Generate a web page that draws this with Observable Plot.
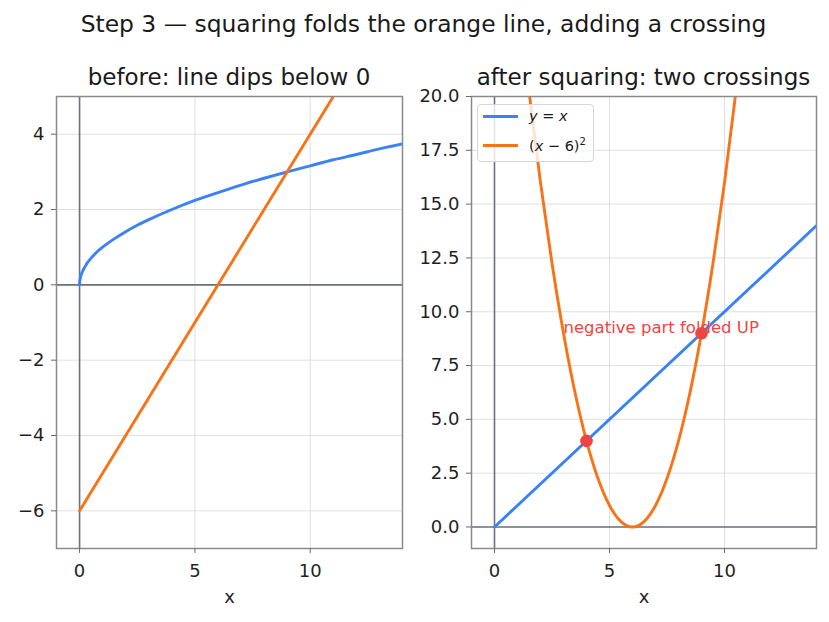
<!DOCTYPE html>
<html>
<head>
<meta charset="utf-8">
<script src="https://cdn.jsdelivr.net/npm/d3@7"></script>
<script src="https://cdn.jsdelivr.net/npm/@observablehq/plot@0.6"></script>
<style>
  html, body { margin: 0; padding: 0; background: #fff; }
  #fig { position: relative; width: 829px; height: 622px; font-family: "DejaVu Sans", sans-serif; color: #1a1a1a; overflow: hidden; }
  .title { position: absolute; left: 9px; width: 829px; text-align: center; font-size: 23.4px; top: 10px; white-space: nowrap; }
  .sub { position: absolute; font-size: 23px; text-align: center; white-space: nowrap; top: 64px; }
  .panel { position: absolute; top: 0; }
  .legend { position: absolute; left: 477px; top: 104px; width: 117px; height: 58px; border: 1px solid #d6d6d6; border-radius: 4px; background: rgba(255,255,255,0.8); font-size: 14.5px; box-sizing: border-box; }
  .legend .row { position: absolute; left: 5px; height: 16px; display: flex; align-items: center; white-space: nowrap; }
  .legend .sw { width: 35px; height: 3px; margin-right: 11px; }
  .legend i { font-style: italic; }
</style>
</head>
<body>
<div id="fig">
  <div class="title">Step 3 — squaring folds the orange line, adding a crossing</div>
  <div class="sub" style="left:56px;width:346px;">before: line dips below 0</div>
  <div class="sub" style="left:471px;width:345px;">after squaring: two crossings</div>
</div>
<script>
// Left panel: y = √x against the straight line y = x − 6
const sqrtX = [0, 0.005, 0.02, 0.045, 0.08, 0.125, 0.18, 0.245, 0.32, 0.405, 0.5, 0.75, 1, 1.5, 2, 2.5, 3, 4, 5, 6, 7, 8, 9, 10, 11, 12, 13, 14];
const sqrtY = [0, 0.07, 0.14, 0.21, 0.28, 0.35, 0.42, 0.49, 0.57, 0.64, 0.71, 0.87, 1, 1.22, 1.41, 1.58, 1.73, 2, 2.24, 2.45, 2.65, 2.83, 3, 3.16, 3.32, 3.46, 3.61, 3.74];
const lineX = [0, 14];
const lineY = [-6, 8];

// Right panel: y = x against the folded curve y = (x − 6)²
const diagX = [0, 14];
const diagY = [0, 14];
const parabX = [1, 1.5, 2, 2.5, 3, 3.5, 4, 4.5, 5, 5.5, 6, 6.5, 7, 7.5, 8, 8.5, 9, 9.5, 10, 10.5, 11];
const parabY = [25, 20.25, 16, 12.25, 9, 6.25, 4, 2.25, 1, 0.25, 0, 0.25, 1, 2.25, 4, 6.25, 9, 12.25, 16, 20.25, 25];
const crossX = [4, 9];
const crossY = [4, 9];
const note = { x: 3, y: 9, text: "negative part folded UP" };

const xTicks = [0, 5, 10];
const yTicksLeft = [-6, -4, -2, 0, 2, 4];
const yTicksRight = [0, 2.5, 5, 7.5, 10, 12.5, 15, 17.5, 20];

const BLUE = "#3b82f6", ORANGE = "#f97316", RED = "#ef4444";
const GRID = "#d5d8dd", ZERO = "#6e717c", FRAME = "#8a8a8a", TICK = "#6a6a6a", INK = "#1f1f1f";

const pts = (xs, ys) => xs.map((x, i) => ({x, y: ys[i]}));

function panel({left, width, marginLeft, marginRight, yDomain, yTicks, yFormat, marks}) {
  const svg = Plot.plot({
    width, height: 622,
    marginLeft, marginRight, marginTop: 96, marginBottom: 74,
    x: {domain: [-1, 14]},
    y: {domain: yDomain},
    style: {fontFamily: "DejaVu Sans, sans-serif", fontSize: "18px", color: INK, background: "transparent", overflow: "visible"},
    marks: [
      Plot.gridX(xTicks, {stroke: GRID, strokeOpacity: 1, strokeWidth: 0.8}),
      Plot.gridY(yTicks, {stroke: GRID, strokeOpacity: 1, strokeWidth: 0.8}),
      Plot.ruleX([0], {stroke: ZERO, strokeWidth: 1.6}),
      Plot.ruleY([0], {stroke: ZERO, strokeWidth: 1.6}),
      ...marks,
      Plot.frame({stroke: FRAME, strokeWidth: 1.5}),
      Plot.axisX(xTicks, {tickSize: 5, tickPadding: 11, stroke: TICK, fill: INK, fontSize: 18, label: null, tickFormat: d3.format("d")}),
      Plot.axisY(yTicks, {tickSize: 5, tickPadding: 7, stroke: TICK, fill: INK, fontSize: 18, label: null, tickFormat: yFormat}),
      Plot.text(["x"], {frameAnchor: "bottom", dy: 54, fontSize: 18, fill: INK})
    ]
  });
  svg.classList.add("panel");
  svg.style.left = left + "px";
  document.getElementById("fig").appendChild(svg);
}

panel({
  left: 0, width: 414, marginLeft: 56, marginRight: 12,
  yDomain: [-7, 5], yTicks: yTicksLeft, yFormat: d3.format("d"),
  marks: [
    Plot.line(pts(sqrtX, sqrtY), {x: "x", y: "y", stroke: BLUE, strokeWidth: 2.9, curve: "monotone-x", clip: true}),
    Plot.line(pts(lineX, lineY), {x: "x", y: "y", stroke: ORANGE, strokeWidth: 2.9, clip: true})
  ]
});

panel({
  left: 414, width: 415, marginLeft: 57, marginRight: 13,
  yDomain: [-1, 20], yTicks: yTicksRight, yFormat: d3.format(".1f"),
  marks: [
    Plot.line(pts(diagX, diagY), {x: "x", y: "y", stroke: BLUE, strokeWidth: 2.9, clip: true}),
    Plot.line(pts(parabX, parabY), {x: "x", y: "y", stroke: ORANGE, strokeWidth: 2.9, curve: "natural", clip: true}),
    Plot.dot(pts(crossX, crossY), {x: "x", y: "y", r: 6.3, fill: RED, stroke: "none"}),
    Plot.text([note], {x: "x", y: "y", text: "text", textAnchor: "start", lineAnchor: "bottom", fill: RED, fontSize: 16.5})
  ]
});

// Legend for the right panel
const legend = document.createElement("div");
legend.className = "legend";
legend.innerHTML =
  `<div class="row" style="top:3px"><span class="sw" style="background:${BLUE}"></span><span><i>y</i> = <i>x</i></span></div>` +
  `<div class="row" style="top:32px"><span class="sw" style="background:${ORANGE}"></span><span>(<i>x</i> − 6)<sup style="font-size:10px;vertical-align:6px">2</sup></span></div>`;
document.getElementById("fig").appendChild(legend);
</script>
</body>
</html>
